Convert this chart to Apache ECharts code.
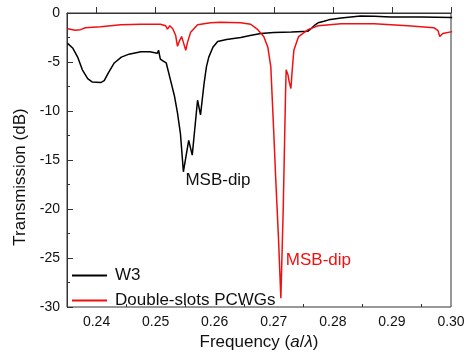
<!DOCTYPE html>
<html><head><meta charset="utf-8">
<script src="https://cdn.jsdelivr.net/npm/echarts@6/dist/echarts.min.js"></script>
<style>html,body{margin:0;padding:0;background:#fff}#c{width:469px;height:356px}</style>
</head><body><div id="c"></div>
<script>
// W3 series
const w3Freq = [0.2351,0.2360,0.2368,0.2376,0.2385,0.2393,0.2407,0.2413,0.2420,0.2430,0.2442,0.2455,0.2475,0.2490,0.2503,0.2505,0.2508,0.2513,0.2518,0.2525,0.2532,0.2537,0.2542,0.2547,0.2556,0.2562,0.2571,0.2576,0.2582,0.2586,0.2590,0.2597,0.2605,0.2620,0.2632,0.2644,0.2660,0.2678,0.2700,0.2730,0.2758,0.2763,0.2766,0.2770,0.2775,0.2785,0.2793,0.2814,0.2847,0.2870,0.2898,0.2950,0.3002];
const w3Val  = [-3.1,-3.6,-4.5,-5.8,-6.7,-7.05,-7.1,-6.9,-6.1,-5.1,-4.5,-4.2,-3.95,-3.95,-4.1,-3.8,-4.7,-4.9,-5.1,-6.8,-8.5,-10.2,-12.3,-16.2,-13.0,-14.5,-8.9,-10.4,-7.2,-5.5,-4.5,-3.5,-2.9,-2.7,-2.6,-2.5,-2.3,-2.1,-2.0,-1.95,-1.85,-1.6,-1.4,-1.2,-1.0,-0.85,-0.7,-0.5,-0.3,-0.32,-0.4,-0.42,-0.45];
// Double-slots PCWGs series
const dsFreq = [0.2351,0.2364,0.2373,0.2381,0.2407,0.2441,0.2475,0.2508,0.2517,0.2520,0.2524,0.2529,0.2534,0.2537,0.2540,0.2544,0.2547,0.2551,0.2554,0.2559,0.2571,0.2593,0.2610,0.2644,0.2661,0.2673,0.2683,0.2690,0.2695,0.2700,0.2703,0.2708,0.2712,0.2716,0.2718,0.2720,0.2721,0.2724,0.2726,0.2729,0.2731,0.2734,0.2742,0.2758,0.2775,0.2814,0.2870,0.2927,0.2971,0.2978,0.2981,0.2986,0.3002];
const dsVal  = [-1.6,-1.75,-1.7,-1.5,-1.4,-1.2,-1.15,-1.15,-1.3,-1.65,-1.3,-1.6,-2.3,-3.4,-2.9,-2.4,-3.0,-3.8,-3.0,-2.0,-1.2,-1.0,-0.95,-1.0,-1.15,-1.7,-2.4,-3.5,-5.5,-12.2,-16.5,-23.0,-29.1,-20.0,-14.0,-8.0,-5.8,-6.3,-7.0,-7.7,-6.0,-3.8,-2.4,-1.7,-1.3,-1.1,-1.1,-1.3,-1.5,-1.8,-2.4,-2.1,-1.9];
// axis ticks
const xMajorTicks = [0.24,0.25,0.26,0.27,0.28,0.29,0.30];
const xMinorTicks = [0.235,0.245,0.255,0.265,0.275,0.285,0.295];
const seriesNames = ['W3','Double-slots PCWGs'];
// annotations: [freq, value, text]
const w3Note = [0.2547, -16.2, 'MSB-dip'];
const dsNote = [0.2717, -25.2, 'MSB-dip'];

const zip = (a,b)=>a.map((v,i)=>[v,b[i]]);
const FONT = 'Arial, "Liberation Sans", sans-serif';
const chart = echarts.init(document.getElementById('c'), null, {renderer:'canvas'});
const baseX = {type:'value', min:0.235, max:0.30, position:'bottom'};
chart.setOption({
  animation:false,
  grid:{left:67,right:18,top:13,bottom:49,show:true,borderColor:'#333',borderWidth:1,backgroundColor:'transparent'},
  legend:{orient:'vertical',left:67,top:262,itemWidth:35,itemHeight:14,itemGap:8,
    data:seriesNames, textStyle:{fontFamily:FONT,fontSize:17,lineHeight:14,color:'#111',padding:[0,0,0,3]},
    icon:'path://M0,6 L35,6 L35,8 L0,8 Z'},
  xAxis:[
    Object.assign({}, baseX, {
      name:'Frequency ({i|a}/{i|λ})', nameLocation:'middle', nameGap:26,
      nameTextStyle:{fontFamily:FONT,fontSize:17,color:'#111',rich:{i:{fontFamily:FONT,fontSize:17,fontStyle:'italic',color:'#111'}}},
      axisLine:{show:true,lineStyle:{color:'#333',width:1}},
      axisTick:{show:true,inside:true,length:6,lineStyle:{color:'#333'},customValues:xMajorTicks},
      axisLabel:{show:true,fontFamily:FONT,fontSize:14,color:'#111',margin:8,customValues:xMajorTicks,formatter:v=>v.toFixed(2)},
      splitLine:{show:false}
    }),
    Object.assign({}, baseX, {
      axisLine:{show:false},
      axisTick:{show:true,inside:true,length:3,lineStyle:{color:'#333'},customValues:xMinorTicks},
      axisLabel:{show:false,customValues:xMinorTicks},
      splitLine:{show:false}
    })
  ],
  yAxis:{type:'value',min:-30,max:0,interval:5,
    name:'Transmission (dB)', nameLocation:'middle', nameGap:34,
    nameTextStyle:{fontFamily:FONT,fontSize:17,color:'#111',padding:[0,34,0,0]},
    axisLine:{show:true,lineStyle:{color:'#333',width:1}},
    axisTick:{show:true,inside:true,length:6,lineStyle:{color:'#333'}},
    minorTick:{show:true,splitNumber:2,length:3,lineStyle:{color:'#333'}},
    axisLabel:{fontFamily:FONT,fontSize:14,color:'#111',margin:7},
    splitLine:{show:false}
  },
  series:[
    {name:seriesNames[0],type:'line',xAxisIndex:0,data:zip(w3Freq,w3Val),symbol:'none',
      lineStyle:{color:'#000',width:1.5},itemStyle:{color:'#000'},
      markPoint:{symbol:'circle',symbolSize:0,silent:true,
        label:{show:true,position:'right',distance:2,offset:[0,9],formatter:'{b}',fontFamily:FONT,fontSize:17,color:'#111'},
        data:[{name:w3Note[2],coord:[w3Note[0],w3Note[1]]}]}},
    {name:seriesNames[1],type:'line',xAxisIndex:0,data:zip(dsFreq,dsVal),symbol:'none',
      lineStyle:{color:'#f01010',width:1.5},itemStyle:{color:'#f01010'},
      markPoint:{symbol:'circle',symbolSize:0,silent:true,
        label:{show:true,position:'right',distance:2,formatter:'{b}',fontFamily:FONT,fontSize:17,color:'#f01010'},
        data:[{name:dsNote[2],coord:[dsNote[0],dsNote[1]]}]}}
  ]
});
</script></body></html>
